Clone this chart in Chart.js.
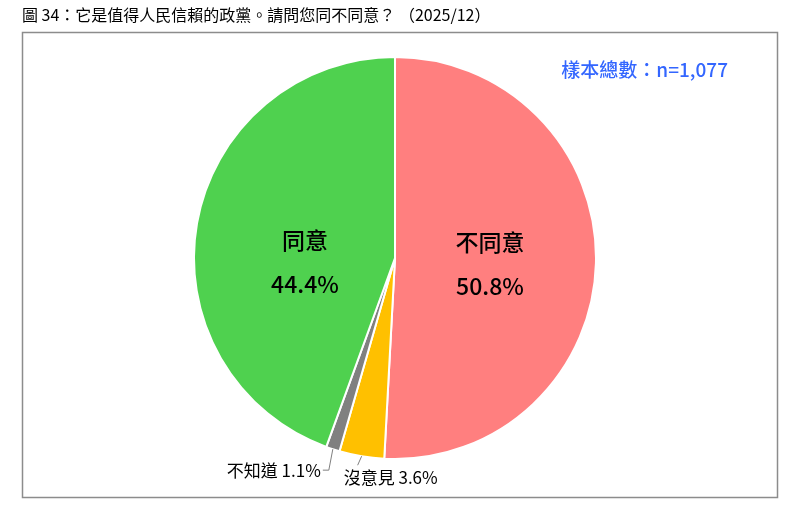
<!DOCTYPE html>
<html>
<head>
<meta charset="utf-8">
<script src="https://cdn.jsdelivr.net/npm/chart.js@4/dist/chart.umd.min.js"></script>
<style>
  html, body { margin: 0; padding: 0; background: #fff; }
  #wrap { width: 800px; height: 515px; position: relative; }
</style>
</head>
<body>
<div id="wrap"><canvas id="pie"></canvas></div>
<script>
// 資料
const labels = ['不同意', '沒意見', '不知道', '同意'];
const values = [50.8, 3.6, 1.1, 44.4];
const colors = ['#FF7F7F', '#FFC000', '#808080', '#4FD14F'];
const titleText = '圖 34：它是值得人民信賴的政黨。請問您同不同意？ （2025/12）';
const sampleText = '樣本總數：n=1,077';

const FONT = '"Noto Sans CJK TC", "Noto Sans", sans-serif';

// 框線、標題、標籤
const decorPlugin = {
    id: 'decor',
    beforeDraw(chart) {
        const ctx = chart.ctx;
        ctx.save();
        ctx.fillStyle = '#fff';
        ctx.fillRect(0, 0, chart.width, chart.height);
        ctx.strokeStyle = '#8c8c8c';
        ctx.lineWidth = 1.5;
        ctx.strokeRect(22.5, 32.5, 755, 465);
        ctx.fillStyle = '#000';
        ctx.font = '16px ' + FONT;
        ctx.textBaseline = 'middle';
        ctx.fillText(titleText, 22, 15);
        ctx.fillStyle = '#3366FF';
        ctx.font = '500 19px ' + FONT;
        ctx.textAlign = 'right';
        ctx.fillText(sampleText, 728, 70);
        ctx.restore();
    },
    afterDatasetsDraw(chart) {
        const ctx = chart.ctx;
        const arcs = chart.getDatasetMeta(0).data;
        const cx = arcs[0].x, cy = arcs[0].y;
        ctx.save();
        ctx.fillStyle = '#000';
        ctx.textAlign = 'center';
        ctx.textBaseline = 'middle';
        // 大區塊：內部標籤
        const offs = { 0: [95, -16], 3: [-90, -18] };
        [0, 3].forEach(i => {
            const x = cx + offs[i][0], y = cy + offs[i][1];
            ctx.font = '500 23px ' + FONT;
            ctx.fillText(labels[i], x, y);
            ctx.fillText(values[i].toFixed(1) + '%', x, y + 44);
        });
        // 小區塊：引線
        ctx.strokeStyle = '#808080';
        ctx.lineWidth = 1;
        ctx.font = '17px ' + FONT;
        const a1 = arcs[1];
        const m1 = (a1.startAngle + a1.endAngle) / 2;
        const x1 = a1.x + Math.cos(m1) * a1.outerRadius;
        const y1 = a1.y + Math.sin(m1) * a1.outerRadius;
        ctx.beginPath();
        ctx.moveTo(x1, y1);
        ctx.lineTo(x1 - 4, y1 + 9);
        ctx.stroke();
        ctx.textAlign = 'left';
        ctx.fillText(labels[1] + ' ' + values[1].toFixed(1) + '%', x1 - 18, y1 + 21);

        const a2 = arcs[2];
        const m2 = (a2.startAngle + a2.endAngle) / 2;
        const x2 = a2.x + Math.cos(m2) * a2.outerRadius;
        const y2 = a2.y + Math.sin(m2) * a2.outerRadius;
        ctx.beginPath();
        ctx.moveTo(x2, y2);
        ctx.lineTo(x2 - 4, y2 + 21);
        ctx.lineTo(x2 - 10, y2 + 21);
        ctx.stroke();
        ctx.textAlign = 'right';
        ctx.fillText(labels[2] + ' ' + values[2].toFixed(1) + '%', x2 - 12, y2 + 21);
        ctx.restore();
    }
};

new Chart(document.getElementById('pie'), {
    type: 'pie',
    data: {
        labels: labels,
        datasets: [{
            data: values,
            backgroundColor: colors,
            borderColor: '#fff',
            borderWidth: 2
        }]
    },
    options: {
        responsive: true,
        maintainAspectRatio: false,
        animation: false,
        layout: { padding: { top: 56, bottom: 55, left: 0, right: 10 } },
        plugins: {
            legend: { display: false },
            tooltip: { enabled: false }
        }
    },
    plugins: [decorPlugin]
});
</script>
</body>
</html>
